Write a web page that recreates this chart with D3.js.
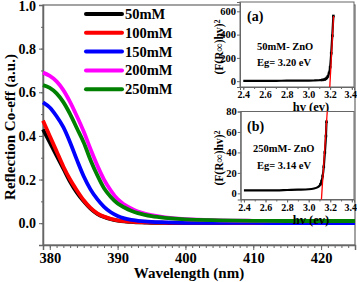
<!DOCTYPE html>
<html lang="en">
<head>
<meta charset="UTF-8" />
<title>Reflection Co-eff vs Wavelength</title>
<script src="https://d3js.org/d3.v7.min.js"></script>
<style>
  body { margin: 0; background: #fff; }
  svg { display: block; font-family: "Liberation Serif", "Times New Roman", serif; font-weight: bold; }
  .axis path, .axis line { stroke: #666; }
  .axis text { fill: #000; font-weight: bold; font-family: "Liberation Serif", "Times New Roman", serif; }
</style>
</head>
<body>
<div id="chart"></div>
<script>
// Main chart data (wavelength in nm)
const wavelengths = [379, 380, 381, 382, 383, 384, 385, 386, 387, 388, 389, 390, 391, 392, 393, 394, 395, 397, 400, 405, 410, 415, 420, 425];
const series = ["50mM", "100mM", "150mM", "200mM", "250mM"];
const colors = ["#000000", "#ff0000", "#0000ff", "#ff00ff", "#008000"];
const r50  = [0.43, 0.37, 0.31, 0.25, 0.19, 0.14, 0.10, 0.067, 0.043, 0.028, 0.018, 0.012, 0.008, 0.006, 0.004, 0.003, 0.002, 0.001, 0.0, 0.0, 0.0, 0.0, 0.0, 0.0];
const r100 = [0.47, 0.40, 0.33, 0.26, 0.20, 0.15, 0.105, 0.07, 0.045, 0.03, 0.02, 0.013, 0.009, 0.007, 0.005, 0.004, 0.003, 0.002, 0.001, 0.001, 0.0, 0.0, 0.0, 0.0];
const r150 = [0.554, 0.53, 0.49, 0.44, 0.37, 0.29, 0.215, 0.155, 0.11, 0.075, 0.05, 0.033, 0.022, 0.015, 0.011, 0.008, 0.006, 0.004, 0.002, 0.001, 0.001, 0.0, 0.0, 0.0];
const r200 = [0.69, 0.675, 0.65, 0.61, 0.555, 0.49, 0.42, 0.34, 0.265, 0.20, 0.15, 0.11, 0.085, 0.067, 0.053, 0.044, 0.037, 0.027, 0.018, 0.013, 0.011, 0.01, 0.01, 0.01];
const r250 = [0.633, 0.62, 0.595, 0.555, 0.50, 0.435, 0.37, 0.29, 0.22, 0.16, 0.12, 0.09, 0.072, 0.057, 0.046, 0.038, 0.032, 0.024, 0.017, 0.013, 0.011, 0.01, 0.01, 0.01];
const seriesValues = [r50, r100, r150, r200, r250];
const xTicks = [380, 390, 400, 410, 420];
const yTicks = [0.0, 0.2, 0.4, 0.6, 0.8, 1.0];

// Inset (a): 50mM ZnO Tauc plot
const hvA = [2.40, 2.50, 2.60, 2.70, 2.80, 2.90, 3.00, 3.05, 3.10, 3.13, 3.15, 3.16, 3.17, 3.18, 3.19, 3.20, 3.21, 3.22, 3.23];
const tA  = [3, 3, 3, 3, 4, 4, 5, 6, 8, 11, 15, 20, 28, 42, 70, 120, 240, 390, 560];
const fitA = [[3.197, -50], [3.232, 560]];
const yTicksA = [0, 200, 400, 600];

// Inset (b): 250mM ZnO Tauc plot
const hvB = [2.40, 2.50, 2.60, 2.70, 2.80, 2.90, 3.00, 3.05, 3.08, 3.10, 3.11, 3.12, 3.13, 3.14, 3.15, 3.16, 3.165];
const tB  = [3, 3, 3, 3, 3.3, 3.6, 4, 4.8, 5.8, 7.5, 9, 12, 17, 26, 40, 56, 70];
const fitB = [[3.118, -6], [3.172, 80]];
const yTicksB = [0, 20, 40, 60, 80];
const hvTicks = [2.4, 2.6, 2.8, 3.0, 3.2, 3.4];

const W = 357, H = 282;
const svg = d3.select("#chart").append("svg").attr("width", W).attr("height", H);

const x = d3.scaleLinear().domain([379, 425]).range([43, 355]);
const y = d3.scaleLinear().domain([-0.1, 1.0]).range([245, 5]);

// frame
svg.append("rect")
  .attr("x", x.range()[0]).attr("y", y.range()[1])
  .attr("width", x.range()[1] - x.range()[0]).attr("height", y.range()[0] - y.range()[1])
  .attr("fill", "none").attr("stroke", "#666").attr("stroke-width", 1.2);

// minor ticks
svg.append("g").attr("class", "axis")
  .attr("transform", `translate(0,${y.range()[0]})`)
  .call(d3.axisBottom(x).tickValues(d3.range(379, 426, 1)).tickSize(3).tickFormat(""))
  .call(g => g.select(".domain").remove());
svg.append("g").attr("class", "axis")
  .attr("transform", `translate(${x.range()[0]},0)`)
  .call(d3.axisLeft(y).tickValues(d3.range(-0.1, 1.01, 0.1)).tickSize(2).tickFormat(""))
  .call(g => g.select(".domain").remove());

// major axes
svg.append("g").attr("class", "axis")
  .attr("transform", `translate(0,${y.range()[0]})`)
  .call(d3.axisBottom(x).tickValues(xTicks).tickSize(5).tickPadding(3).tickFormat(d3.format("d")))
  .call(g => g.select(".domain").attr("stroke-width", 1.5))
  .selectAll("text").attr("font-size", "14.5px");
svg.append("g").attr("class", "axis")
  .attr("transform", `translate(${x.range()[0]},0)`)
  .call(d3.axisLeft(y).tickValues(yTicks).tickSize(4).tickPadding(3).tickFormat(d3.format(".1f")))
  .call(g => g.select(".domain").attr("stroke-width", 1.5))
  .selectAll("text").attr("font-size", "14px").attr("dy", d => d === 1.0 ? "0.42em" : "0.32em");

svg.append("text").attr("x", 189).attr("y", 278).attr("text-anchor", "middle")
  .attr("font-size", "15px").text("Wavelength (nm)");
svg.append("text").attr("transform", "translate(15,127) rotate(-90)").attr("text-anchor", "middle")
  .attr("font-size", "15px").text("Reflection Co-eff (a.u.)");

// curves
const line = d3.line().x(d => x(d[0])).y(d => y(d[1])).curve(d3.curveMonotoneX);
series.forEach((s, i) => {
  svg.append("path")
    .datum(wavelengths.map((w, j) => [w, seriesValues[i][j]]))
    .attr("fill", "none").attr("stroke", colors[i]).attr("stroke-width", 3.8)
    .attr("d", line);
});

// legend
const legend = svg.append("g");
series.forEach((s, i) => {
  const ly = 14 + i * 18.8;
  legend.append("line").attr("x1", 86).attr("x2", 122).attr("y1", ly).attr("y2", ly)
    .attr("stroke", colors[i]).attr("stroke-width", 4).attr("stroke-linecap", "round");
  legend.append("text").attr("x", 125).attr("y", ly + 5).attr("font-size", "14.5px").text(s);
});

// insets
function inset(cfg) {
  const ix = d3.scaleLinear().domain([2.37, 3.42]).range(cfg.xr);
  const iy = d3.scaleLinear().domain(cfg.yd).range(cfg.yr);
  const g = svg.append("g");
  g.append("rect").attr("x", cfg.xr[0]).attr("y", cfg.yr[1])
    .attr("width", cfg.xr[1] - cfg.xr[0]).attr("height", cfg.yr[0] - cfg.yr[1])
    .attr("fill", "#fff").attr("stroke", "#666").attr("stroke-width", 1);
  g.append("g").attr("class", "axis").attr("transform", `translate(0,${cfg.yr[0]})`)
    .call(d3.axisBottom(ix).tickValues(d3.range(2.4, 3.41, 0.1)).tickSize(2).tickFormat(""))
    .call(a => a.select(".domain").remove());
  g.append("g").attr("class", "axis").attr("transform", `translate(0,${cfg.yr[0]})`)
    .call(d3.axisBottom(ix).tickValues(hvTicks).tickSize(3).tickPadding(1).tickFormat(d3.format(".1f")))
    .selectAll("text").attr("font-size", "10px").attr("dx", d => d > 3.3 ? "-1.5px" : 0);
  g.append("g").attr("class", "axis").attr("transform", `translate(${cfg.xr[0]},0)`)
    .call(d3.axisLeft(iy).tickValues(cfg.yt).tickSize(3).tickPadding(1))
    .selectAll("text").attr("font-size", "10.5px");
  const l = d3.line().x(d => ix(d[0])).y(d => iy(d[1]));
  const pts = cfg.hv.map((h, j) => [h, cfg.t[j]]);
  g.append("path").datum(pts).attr("fill", "none").attr("stroke", "#000").attr("stroke-width", 2.2)
    .attr("d", l.curve(d3.curveMonotoneX));
  g.selectAll("rect.pt").data(pts.filter(d => d[0] > 3.1)).enter().append("rect")
    .attr("class", "pt").attr("x", d => ix(d[0]) - 1.3).attr("y", d => iy(d[1]) - 1.3)
    .attr("width", 2.6).attr("height", 2.6).attr("fill", "#000");
  g.append("path").datum(cfg.fit).attr("fill", "none").attr("stroke", "#ff0000").attr("stroke-width", 1.3)
    .attr("d", d3.line().x(d => ix(d[0])).y(d => iy(d[1])));
  g.append("text").attr("x", 247).attr("y", cfg.yr[1] + 19).attr("font-size", "14px").text(cfg.tag);
  g.append("text").attr("x", cfg.tx).attr("y", cfg.ty1).attr("font-size", "10.5px").text(cfg.label);
  g.append("text").attr("x", 257).attr("y", cfg.ty2).attr("font-size", "10.5px").text(cfg.eg);
  g.append("text").attr("x", 311).attr("y", cfg.yr[0] + 24).attr("text-anchor", "middle")
    .attr("font-size", "12.5px").text("hv (ev)");
  const yl = g.append("text").attr("transform", `translate(${cfg.ylx},${cfg.yly}) rotate(-90)`)
    .attr("text-anchor", "middle").attr("font-size", "11.5px");
  yl.append("tspan").text("(F(R\u221E)hv)");
  yl.append("tspan").attr("dy", "-0.4em").attr("font-size", "8px").text("2");
}

inset({ xr: [240, 354], yr: [87, 2], yd: [-50, 680], yt: yTicksA, hv: hvA, t: tA, fit: fitA,
  tag: "(a)", label: "50mM- ZnO", eg: "Eg= 3.20 eV", tx: 257, ty1: 50, ty2: 66, ylx: 223, yly: 47 });
inset({ xr: [240.7, 354], yr: [199.5, 111.5], yd: [-6, 80], yt: yTicksB, hv: hvB, t: tB, fit: fitB,
  tag: "(b)", label: "250mM- ZnO", eg: "Eg= 3.14 eV", tx: 253, ty1: 152, ty2: 168.5, ylx: 223, yly: 158 });
</script>
</body>
</html>
